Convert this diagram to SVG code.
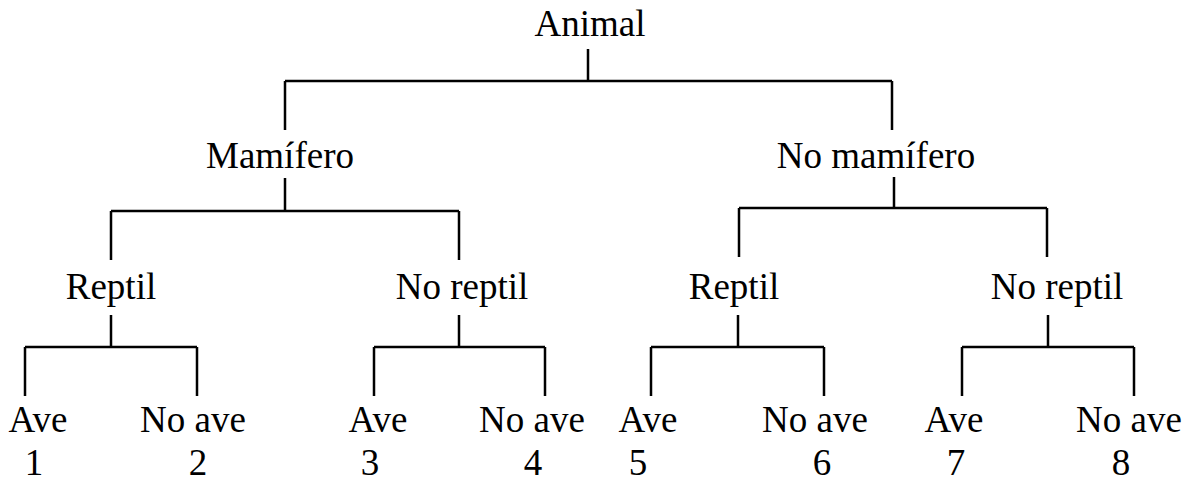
<svg xmlns="http://www.w3.org/2000/svg" width="1187" height="484" viewBox="0 0 1187 484">
<style>
text{font-family:"Liberation Serif","Times New Roman",serif;font-size:37px;fill:#000;text-anchor:middle}
.c path{fill:none;stroke:#000;stroke-width:2.5}
</style>
<rect width="1187" height="484" fill="#fff"/>
<g class="c" id="connectors">
<path d="M588,49V81M285,81H892M285,81V130M892,81V130"/>
<path d="M285,178V211M111,211H459M111,211V260M459,211V260"/>
<path d="M894,177V208M739,208H1047M739,208V257M1047,208V257"/>
<path d="M111,315V347M25,347H197M25,347V396M197,347V396"/>
<path d="M459,315V347M374,347H545M374,347V396M545,347V396"/>
<path d="M738,315V347M651,347H824M651,347V396M824,347V396"/>
<path d="M1048,315V347M962,347H1134M962,347V396M1134,347V396"/>
</g>
<g id="animal"><text x="590" y="36">Animal</text></g>
<g id="mamifero"><text x="280" y="168">Mamífero</text></g>
<g id="nomamifero"><text x="876" y="168">No mamífero</text></g>
<g id="reptil1"><text x="111" y="299">Reptil</text></g>
<g id="noreptil1"><text x="462" y="299">No reptil</text></g>
<g id="reptil2"><text x="734" y="299">Reptil</text></g>
<g id="noreptil2"><text x="1057" y="299">No reptil</text></g>
<g id="leaf1"><text x="38" y="432">Ave</text><text x="34" y="475">1</text></g>
<g id="leaf2"><text x="193" y="432">No ave</text><text x="198" y="475">2</text></g>
<g id="leaf3"><text x="378" y="432">Ave</text><text x="370" y="475">3</text></g>
<g id="leaf4"><text x="532" y="432">No ave</text><text x="533" y="475">4</text></g>
<g id="leaf5"><text x="648" y="432">Ave</text><text x="638" y="475">5</text></g>
<g id="leaf6"><text x="815" y="432">No ave</text><text x="822" y="475">6</text></g>
<g id="leaf7"><text x="954" y="432">Ave</text><text x="956" y="475">7</text></g>
<g id="leaf8"><text x="1129" y="432">No ave</text><text x="1121" y="475">8</text></g>
</svg>
